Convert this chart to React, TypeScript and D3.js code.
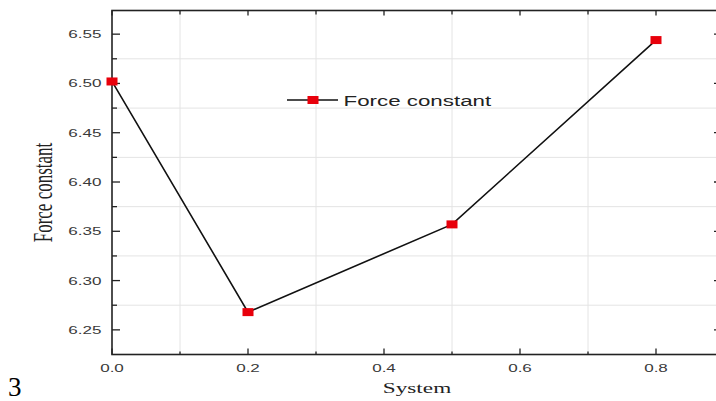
import * as d3 from 'd3';
import React from 'react';

// values
const systems = [0.0, 0.2, 0.5, 0.8];
const forceConstant = [6.502, 6.268, 6.357, 6.544];
const xTicks = [0.0, 0.2, 0.4, 0.6, 0.8];
const xMinorTicks = [0.1, 0.3, 0.5, 0.7];
const yTicks = [6.25, 6.3, 6.35, 6.4, 6.45, 6.5, 6.55];
const yMinorTicks = [6.275, 6.325, 6.375, 6.425, 6.475, 6.525];
const seriesName = 'Force constant';

const width = 716;
const height = 401;
const left = 112;
const right = 724;
const top = 10.5;
const bottom = 354.5;
const stretch = 1.55; // the source picture is widened horizontally

const App = () => {
    const x = d3.scaleLinear().domain([0, 0.9]).range([left, right]);
    const y = d3.scaleLinear().domain([6.225, 6.574]).range([bottom, top]);

    const points = systems.map((s, i) => [s, forceConstant[i]] as [number, number]);
    const line = d3.line<[number, number]>()
        .x((d) => x(d[0]))
        .y((d) => y(d[1]));

    const sans = 'Liberation Sans, Arial, sans-serif';
    const serif = 'Liberation Serif, Times New Roman, serif';
    const ink = '#222';

    return (
        <div style={{ position: 'absolute', left: 0, top: 0 }}>
            <svg width={width} height={height} style={{ display: 'block', background: '#fff' }}>
                {/* grid at the minor ticks */}
                <g stroke="#e4e4e4" strokeWidth={1}>
                    {xMinorTicks.map((t) => (
                        <line key={'gx' + t} x1={x(t)} x2={x(t)} y1={top} y2={bottom} />
                    ))}
                    {yMinorTicks.map((t) => (
                        <line key={'gy' + t} x1={left} x2={right} y1={y(t)} y2={y(t)} />
                    ))}
                </g>

                {/* frame */}
                <rect x={left} y={top} width={right - left} height={bottom - top}
                    fill="none" stroke={ink} strokeWidth={1.6} />

                {/* ticks */}
                <g stroke={ink} strokeWidth={1.3}>
                    {xTicks.map((t) => (
                        <g key={'xt' + t}>
                            <line x1={x(t)} x2={x(t)} y1={bottom} y2={bottom - 6} />
                            <line x1={x(t)} x2={x(t)} y1={top} y2={top + 5} />
                        </g>
                    ))}
                    {xMinorTicks.map((t) => (
                        <g key={'xm' + t}>
                            <line x1={x(t)} x2={x(t)} y1={bottom} y2={bottom - 3} />
                            <line x1={x(t)} x2={x(t)} y1={top} y2={top + 4} />
                        </g>
                    ))}
                    {yTicks.map((t) => (
                        <g key={'yt' + t}>
                            <line x1={left} x2={left + 8} y1={y(t)} y2={y(t)} />
                            <line x1={right} x2={right - 10} y1={y(t)} y2={y(t)} />
                        </g>
                    ))}
                    {yMinorTicks.map((t) => (
                        <g key={'ym' + t}>
                            <line x1={left} x2={left + 5} y1={y(t)} y2={y(t)} />
                            <line x1={right} x2={right - 5} y1={y(t)} y2={y(t)} />
                        </g>
                    ))}
                </g>

                {/* tick labels */}
                <g fill="#3a3a3a" fontFamily={sans} fontSize={11}>
                    {xTicks.map((t) => (
                        <text key={'xl' + t} textAnchor="middle"
                            transform={`translate(${x(t)},${372}) scale(${stretch},1)`}>
                            {d3.format('.1f')(t)}
                        </text>
                    ))}
                    {yTicks.map((t) => (
                        <text key={'yl' + t} textAnchor="end"
                            transform={`translate(${101.5},${y(t) + 4}) scale(${stretch},1)`}>
                            {d3.format('.2f')(t)}
                        </text>
                    ))}
                </g>

                {/* axis titles */}
                <text fill={ink} fontFamily={serif} fontSize={15} textAnchor="middle"
                    transform={`translate(${417},${393}) scale(${stretch},1)`}>System</text>
                <text fill={ink} fontFamily={serif} fontSize={17} textAnchor="middle"
                    transform={`translate(${51.5},${192.5}) rotate(-90) scale(1,${stretch})`}>
                    {seriesName}
                </text>

                {/* series */}
                <path d={line(points) ?? ''} fill="none" stroke="#111" strokeWidth={1.6} />
                {points.map((p, i) => (
                    <rect key={'pt' + i} x={x(p[0]) - 5.5} y={y(p[1]) - 4} width={11} height={8}
                        fill="#e8000b" />
                ))}

                {/* legend */}
                <line x1={287} x2={338} y1={100} y2={100} stroke="#111" strokeWidth={1.6} />
                <rect x={307.5} y={96} width={11} height={8} fill="#e8000b" />
                <text fill={ink} fontFamily={sans} fontSize={15}
                    transform={`translate(${343.5},${105.5}) scale(1.49,1)`}>{seriesName}</text>

                {/* panel number */}
                <text x={8} y={396} fontFamily={serif} fontSize={27} fill="#000">3</text>
            </svg>
        </div>
    );
};

export default App;
